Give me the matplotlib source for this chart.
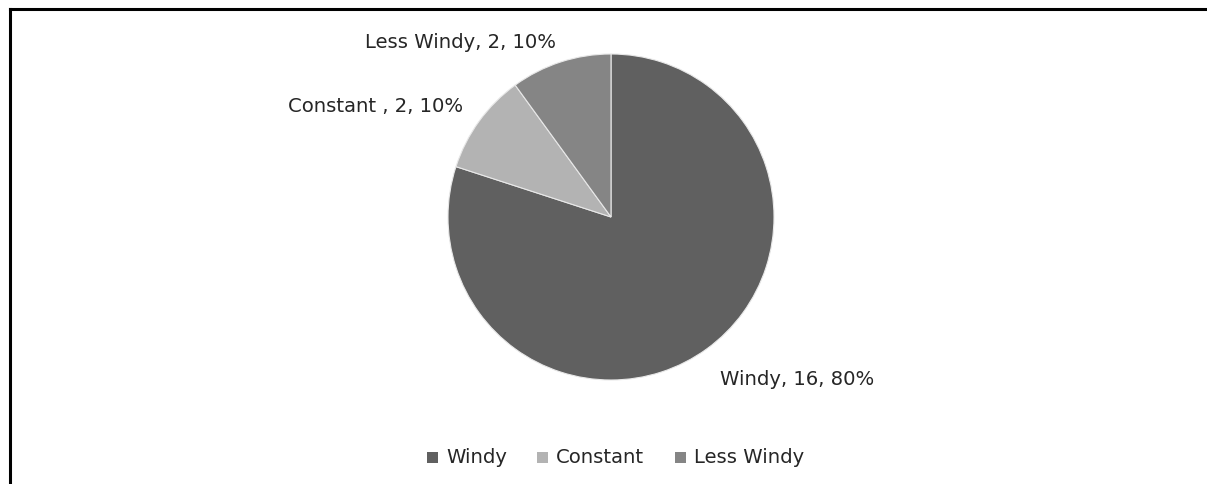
import matplotlib
matplotlib.use("Agg")
import matplotlib.pyplot as plt
from matplotlib.lines import Line2D
from matplotlib.patches import Rectangle

categories = ["Windy", "Constant", "Less Windy"]
counts = [16, 2, 2]
label_names = ["Windy", "Constant ", "Less Windy"]
colors = ["#606060", "#b3b3b3", "#858585"]

W, H = 1207, 485
fig = plt.figure(figsize=(W / 100, H / 100), dpi=100)
fig.patch.set_facecolor("white")

ax = fig.add_axes([0, 0, 1, 1])
ax.set_xlim(0, W)
ax.set_ylim(0, H)
ax.set_aspect("equal")
ax.axis("off")

cx, cy, r = 611, H - 218, 163
wedges, _ = ax.pie(counts, colors=colors, startangle=90, counterclock=False,
                   center=(cx, cy), radius=r, frame=True,
                   wedgeprops=dict(edgecolor="#e8e8e8", linewidth=0.8))
ax.set_xlim(0, W)
ax.set_ylim(0, H)
ax.axis("off")

font = "DejaVu Sans"
fs = 14.1
total = sum(counts)
# data labels: name, value, percentage
label_pos = [(720, H - 380, "left"), (463, H - 107, "right"), (556, H - 42, "right")]
for name, v, (x, y, ha) in zip(label_names, counts, label_pos):
    txt = f"{name}, {v}, {round(100 * v / total)}%"
    ax.text(x, y, txt, ha=ha, va="center", fontsize=fs, family=font, color="#262626")

# legend
leg_items = [(427, categories[0]), (537, categories[1]), (675, categories[2])]
ly = H - 458
for (x, name), c in zip(leg_items, colors):
    ax.add_patch(Rectangle((x, ly - 5.5), 11, 11, facecolor=c, edgecolor="none"))
    ax.text(x + 19, ly, name, ha="left", va="center", fontsize=fs, family=font, color="#262626")

# chart frame (top and left edges)
fig.add_artist(Line2D([9.5 / W, 1], [1 - 9.5 / H, 1 - 9.5 / H], color="black", lw=2.2, transform=fig.transFigure))
fig.add_artist(Line2D([9.5 / W, 9.5 / W], [0, 1 - 9.5 / H], color="black", lw=2.2, transform=fig.transFigure))

fig.savefig("out.png", dpi=100, facecolor="white")
